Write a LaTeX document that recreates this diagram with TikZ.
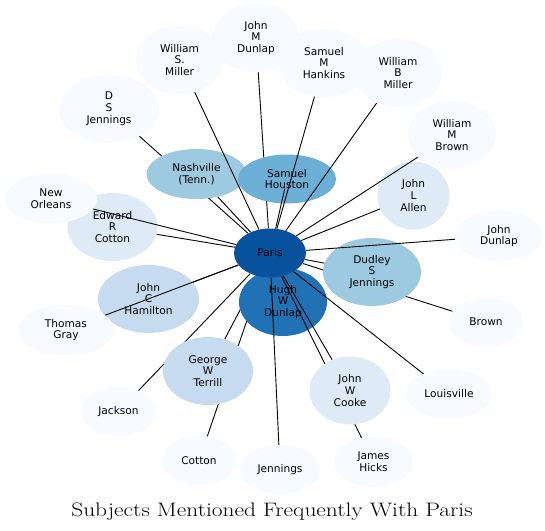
\documentclass[tikz,border=0pt]{standalone}
\usepackage{fontspec}
\newfontfamily\labelfont{DejaVu Sans}
\usepackage{graphicx}
\usepackage{tikz}
\usetikzlibrary{shapes.geometric}
\definecolor{blues1}{HTML}{F7FBFF}
\definecolor{blues2}{HTML}{DEEBF7}
\definecolor{blues3}{HTML}{C6DBEF}
\definecolor{blues4}{HTML}{9ECAE1}
\definecolor{blues5}{HTML}{6BAED6}
\definecolor{blues6}{HTML}{2171B5}
\definecolor{blues7}{HTML}{08519C}
\pgfdeclarelayer{lo}
\pgfdeclarelayer{mid}
\pgfdeclarelayer{hi}
\pgfdeclarelayer{top}
\pgfsetlayers{lo,mid,hi,main,top}

\begin{document}
\begin{tikzpicture}[
			x = 1pt, y = -1pt,
			every node/.style = {font = \labelfont\fontsize{10.6}{11.8}\selectfont, align = center},
			bubble/.style = {ellipse, inner sep = 0pt},
			link/.style = {line width = 0.9pt}
			]
			\useasboundingbox (0,0) rectangle (545,530);

			% the subject in the middle
			\begin{pgfonlayer}{top}
				\node[bubble, fill = blues7, minimum width = 72, minimum height = 49] (paris) at (270,253) {Paris};
			\end{pgfonlayer}

			% inner ring, darker bubbles
			\begin{pgfonlayer}{mid}
				\foreach \id/\x/\y/\w/\h/\c/\txt in {
					nash/196.5/174/100/50/blues4/{Nashville\\(Tenn.)},
					sh/287/179/98/49/blues5/{Samuel\\Houston},
					dudley/372/272/98/68/blues4/{Dudley\\S\\Jennings},
					hugh/283/302/88/68/blues6/{Hugh\\W\\Dunlap},
					jch/148.5/299/101/68/blues3/{John\\C\\Hamilton},
					gwt/208/371/90/68/blues3/{George\\W\\Terrill},
					erc/112.5/227/90/68/blues2/{Edward\\R\\Cotton},
					jla/413.5/195.5/72/68/blues2/{John\\L\\Allen}}{
					\node[bubble, fill = \c, minimum width = \w, minimum height = \h] (\id) at (\x,\y) {\txt};
				}
			\end{pgfonlayer}

			% outer ring
			\foreach \id/\x/\y/\w/\h/\c/\txt in {
				wsm/179.6/60/88/68/blues1/{William\\S.\\Miller},
				jmd/256/38/88/68/blues1/{John\\M\\Dunlap},
				smh/324/63/92/68/blues1/{Samuel\\M\\Hankins},
				wbm/398/73/88/68/blues1/{William\\B\\Miller},
				dsj/109/109/100/68/blues1/{D\\S\\Jennings},
				wmb/452/135/88/68/blues1/{William\\M\\Brown},
				neworl/51/198.5/92/50/blues1/{New\\Orleans},
				jd/499/236/88/50/blues1/{John\\Dunlap},
				brown/486/322/74/49/blues1/{Brown},
				tg/66/330/96/50/blues1/{Thomas\\Gray},
				jwc/350/390.5/81/68/blues2/{John\\W\\Cooke},
				lou/449/394/86/49/blues1/{Louisville},
				jackson/118.5/411.5/75/49/blues1/{Jackson},
				cotton/199/460.5/74/49/blues1/{Cotton},
				jennings/280/469.5/80/49/blues1/{Jennings},
				jh/373.5/462/79/50/blues1/{James\\Hicks}}{
				\node[bubble, fill = \c, minimum width = \w, minimum height = \h] (\id) at (\x,\y) {\txt};
			}

			% links, under and over the inner ring
			\begin{pgfonlayer}{lo}
				\foreach \n in {dsj,jmd,brown,cotton,jackson,nash,dudley,gwt,jch,erc,hugh,jla}{
					\draw[link] (\n) -- (paris);
				}
			\end{pgfonlayer}
			\begin{pgfonlayer}{hi}
				\foreach \n in {wsm,smh,wbm,jd,tg,neworl,lou,jennings,jwc,jh,wmb}{
					\draw[link] (\n) -- (paris);
				}
				\draw[link, shorten <= 10pt] (sh.center) -- (paris);
			\end{pgfonlayer}

			\node[font = \rmfamily\fontsize{19.5}{23}\selectfont, anchor = base] (title) at (272,516) {\scalebox{1.2}[1]{Subjects Mentioned Frequently With Paris}};

		\end{tikzpicture}
\end{document}
